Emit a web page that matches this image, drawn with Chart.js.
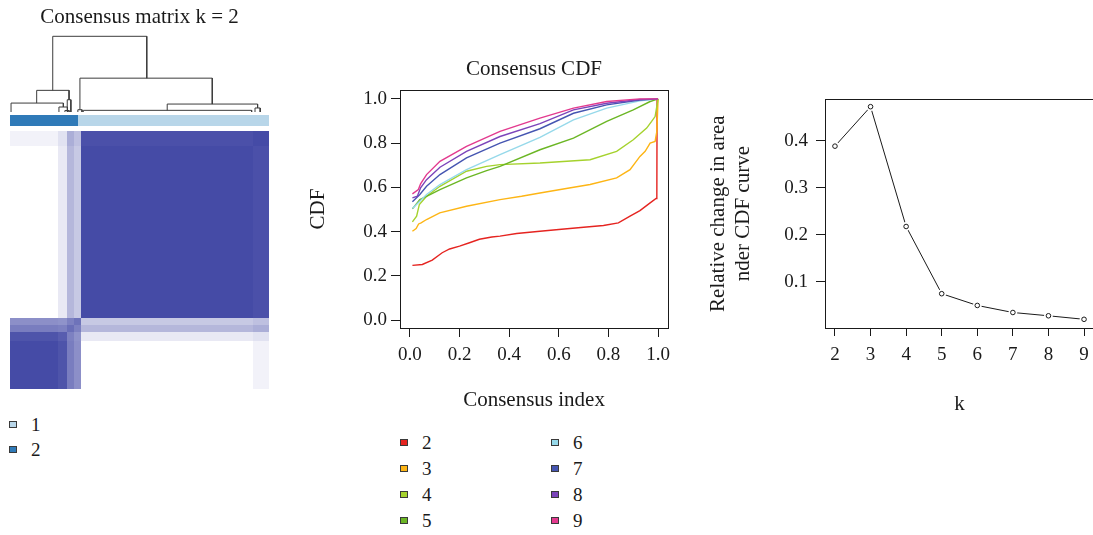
<!DOCTYPE html>
<html>
<head>
<meta charset="utf-8">
<title>Consensus clustering</title>
<script src="https://cdn.jsdelivr.net/npm/chart.js@4.4.1/dist/chart.umd.min.js"></script>
<style>
  html, body { margin: 0; padding: 0; background: #fff; width: 1093px; height: 535px; overflow: hidden; }
  .panel { position: absolute; }
  .lg-text { position: absolute; font-family: "Liberation Serif", "Times New Roman", serif; font-size: 19px; line-height: 19px; color: #1a1a1a; white-space: nowrap; }
  .lg-swatch { position: absolute; width: 8px; height: 7px; box-sizing: border-box; border: 1px solid #3a3a3a; }
</style>
</head>
<body>
<div class="panel" style="left:10px; top:0px; width:259px; height:389px;"><canvas id="matrix"></canvas></div>
<div class="panel" style="left:300px; top:50px; width:390px; height:370px;"><canvas id="cdf"></canvas></div>
<div class="panel" style="left:700px; top:80px; width:400px; height:345px;"><canvas id="delta"></canvas></div>
<div id="legends"></div>
<script>
// ---------- consensus matrix, k = 2 ----------
// sample bands along the clustered sample order (fraction of samples)
const sampleBands = [0, 0.185, 0.22, 0.247, 0.274, 0.94, 1.0];
// mean consensus between every pair of bands (symmetric)
const bandConsensus = [
  [1.00, 0.95, 0.72, 0.62, 0.00, 0.07],
  [0.95, 0.90, 0.70, 0.60, 0.12, 0.16],
  [0.72, 0.70, 0.80, 0.70, 0.40, 0.45],
  [0.62, 0.60, 0.70, 0.78, 0.30, 0.35],
  [0.00, 0.12, 0.40, 0.30, 1.00, 0.97],
  [0.07, 0.16, 0.45, 0.35, 0.97, 1.00]
];
// cluster membership along the same order
const clusterBreaks = [0, 0.263, 1];
const clusterOfSpan = ['2', '1'];
const clusterNames = ['1', '2'];
// dendrogram merges: [left x, left height, right x, right height, merge height]
const dendroMerges = [
  [0.165, 0.286, 0.528, 0.447, 1.000],
  [0.270, 0.030, 0.781, 0.105, 0.447],
  [0.607, 0.022, 0.956, 0.053, 0.105],
  [0.283, 0.000, 0.933, 0.000, 0.022],
  [0.946, 0.000, 0.966, 0.000, 0.053],
  [0.262, 0.000, 0.278, 0.000, 0.030],
  [0.103, 0.118, 0.228, 0.162, 0.286],
  [0.004, 0.000, 0.206, 0.066, 0.118],
  [0.189, 0.000, 0.222, 0.000, 0.066],
  [0.221, 0.000, 0.235, 0.000, 0.162],
  [0.212, 0.000, 0.228, 0.000, 0.020]
];

// ---------- consensus CDF per k ----------
const cdfK = ['2', '3', '4', '5', '6', '7', '8', '9'];
const cdfK2 = [[0.01,0.248],[0.05,0.252],[0.09,0.272],[0.13,0.305],[0.16,0.322],[0.20,0.335],[0.24,0.350],[0.28,0.366],[0.33,0.376],[0.363,0.380],[0.43,0.392],[0.524,0.402],[0.60,0.410],[0.70,0.420],[0.78,0.428],[0.84,0.440],[0.887,0.470],[0.927,0.495],[0.968,0.530],[0.992,0.550],[0.995,0.555],[0.996,1.0]];
const cdfK3 = [[0.01,0.402],[0.025,0.414],[0.035,0.435],[0.045,0.440],[0.067,0.455],[0.12,0.485],[0.228,0.515],[0.363,0.545],[0.45,0.560],[0.524,0.575],[0.63,0.595],[0.726,0.613],[0.833,0.643],[0.887,0.680],[0.927,0.740],[0.948,0.763],[0.968,0.800],[0.988,0.808],[0.995,0.853],[1.0,1.0]];
const cdfK4 = [[0.01,0.444],[0.027,0.470],[0.038,0.523],[0.067,0.560],[0.121,0.605],[0.228,0.673],[0.309,0.695],[0.363,0.703],[0.524,0.710],[0.726,0.725],[0.833,0.763],[0.90,0.815],[0.954,0.868],[0.974,0.898],[0.988,0.920],[1.0,1.0]];
const cdfK5 = [[0.01,0.503],[0.04,0.545],[0.067,0.560],[0.121,0.590],[0.228,0.643],[0.309,0.676],[0.363,0.695],[0.524,0.770],[0.659,0.823],[0.793,0.898],[0.90,0.950],[0.968,0.988],[1.0,1.0]];
const cdfK6 = [[0.01,0.505],[0.04,0.538],[0.067,0.568],[0.121,0.613],[0.228,0.680],[0.363,0.748],[0.524,0.826],[0.659,0.905],[0.793,0.958],[0.927,0.991],[1.0,1.0]];
const cdfK7 = [[0.01,0.535],[0.04,0.568],[0.067,0.605],[0.121,0.658],[0.228,0.733],[0.363,0.800],[0.524,0.865],[0.659,0.935],[0.793,0.973],[0.927,0.995],[1.0,1.0]];
const cdfK8 = [[0.01,0.553],[0.03,0.560],[0.043,0.598],[0.067,0.635],[0.121,0.691],[0.228,0.763],[0.363,0.830],[0.524,0.888],[0.659,0.950],[0.793,0.980],[0.927,0.997],[1.0,1.0]];
const cdfK9 = [[0.01,0.571],[0.034,0.590],[0.043,0.616],[0.067,0.658],[0.121,0.718],[0.228,0.785],[0.363,0.853],[0.524,0.913],[0.659,0.958],[0.793,0.988],[0.927,1.0],[1.0,1.0]];
const cdfTicks = [0, 0.2, 0.4, 0.6, 0.8, 1.0];
const cdfTickLabels = ['0.0', '0.2', '0.4', '0.6', '0.8', '1.0'];

// ---------- relative change in area under the CDF ----------
const deltaK = [2, 3, 4, 5, 6, 7, 8, 9];
const deltaArea = [0.389, 0.473, 0.218, 0.075, 0.050, 0.035, 0.028, 0.0205];
const deltaYTicks = [0.1, 0.2, 0.3, 0.4];

// ---------- styling ----------
const serif = '"Liberation Serif", "Times New Roman", serif';
const ink = '#1a1a1a';
const heatDark = [69, 75, 166];
const clusterColors = { '1': '#b8d6e9', '2': '#2f7ab8' };
const cdfColors = ['#e52420', '#fdb515', '#a5d22d', '#6bb624', '#96d9ea', '#4555b1', '#7b44ba', '#e33a8f'];
const font = size => ({ family: serif, size: size, weight: 'normal', lineHeight: 1.2 });

Chart.defaults.font.family = serif;
Chart.defaults.color = ink;
Chart.defaults.animation = false;

function heatColor(v) {
  const c = heatDark.map(d => Math.round(255 + (d - 255) * v));
  return 'rgb(' + c.join(',') + ')';
}

// draws the consensus cells and the cluster colour bar from the x / yh scales
const matrixCells = {
  id: 'matrixCells',
  beforeDatasetsDraw(chart) {
    const { ctx } = chart;
    const x = chart.scales.x, yh = chart.scales.yh;
    const px = v => Math.round(x.getPixelForValue(v));
    const py = v => Math.round(yh.getPixelForValue(v));
    ctx.save();
    for (let i = 0; i < sampleBands.length - 1; i++) {
      for (let j = 0; j < sampleBands.length - 1; j++) {
        const x0 = px(sampleBands[i]), x1 = px(sampleBands[i + 1]);
        const yb = py(sampleBands[j]), yt = py(sampleBands[j + 1]);
        ctx.fillStyle = heatColor(bandConsensus[j][i]);
        ctx.fillRect(x0, yt, x1 - x0, yb - yt);
      }
    }
    const barLow = 1.0194, barHigh = 1.062;
    for (let k = 0; k < clusterOfSpan.length; k++) {
      const x0 = px(clusterBreaks[k]), x1 = px(clusterBreaks[k + 1]);
      const yb = py(barLow), yt = py(barHigh);
      ctx.fillStyle = clusterColors[clusterOfSpan[k]];
      ctx.fillRect(x0, yt, x1 - x0, yb - yt);
    }
    ctx.restore();
  }
};

// full frame round the plotting region
const frameBox = {
  id: 'frameBox',
  afterDatasetsDraw(chart) {
    const { ctx, chartArea: a } = chart;
    ctx.save();
    ctx.strokeStyle = ink;
    ctx.lineWidth = 1;
    const l = Math.round(a.left) + 0.5, t = Math.round(a.top) + 0.5;
    ctx.strokeRect(l, t, Math.round(a.right) - Math.round(a.left), Math.round(a.bottom) - Math.round(a.top));
    ctx.restore();
  }
};

new Chart(document.getElementById('matrix'), {
  type: 'scatter',
  data: {
    datasets: dendroMerges.map(m => ({
      data: [{ x: m[0], y: m[1] }, { x: m[0], y: m[4] }, { x: m[2], y: m[4] }, { x: m[2], y: m[3] }],
      showLine: true, borderColor: '#3c3c3c', borderWidth: 1, pointRadius: 0, tension: 0,
      yAxisID: 'yd', clip: false
    }))
  },
  options: {
    responsive: true, maintainAspectRatio: false, animation: false, events: [],
    layout: { padding: 0 },
    plugins: {
      legend: { display: false }, tooltip: { enabled: false },
      title: { display: true, text: 'Consensus matrix k = 2', font: font(21), color: ink, padding: { top: 4.4, bottom: 0.4 } }
    },
    scales: {
      x: { type: 'linear', min: 0, max: 1, display: false },
      y: { type: 'linear', display: false },
      yh: { type: 'linear', position: 'left', min: 0, max: 1.3915, display: false },
      yd: { type: 'linear', position: 'left', min: -3.659, max: 1.0832, display: false }
    }
  },
  plugins: [matrixCells]
});

// k = 2 is drawn first and k = 9 last (higher order is drawn earlier)
const cdfSeries = [cdfK2, cdfK3, cdfK4, cdfK5, cdfK6, cdfK7, cdfK8, cdfK9];
new Chart(document.getElementById('cdf'), {
  type: 'scatter',
  data: {
    datasets: cdfSeries.map((s, i) => ({
      label: cdfK[i],
      order: cdfSeries.length - i,
      data: s.map(p => ({ x: p[0], y: p[1] })),
      showLine: true, borderColor: cdfColors[i], borderWidth: 1.4, pointRadius: 0, tension: 0
    }))
  },
  options: {
    responsive: true, maintainAspectRatio: false, animation: false, events: [],
    layout: { padding: { left: 0, right: 22, top: 0, bottom: 0 } },
    plugins: {
      legend: { display: false }, tooltip: { enabled: false },
      title: { display: true, fullSize: false, text: 'Consensus CDF', font: font(21), color: ink, padding: { top: 7, bottom: 7.8 } }
    },
    scales: {
      x: {
        type: 'linear', min: -0.04, max: 1.04,
        afterFit: s => { s.height = 92; },
        afterBuildTicks: s => { s.ticks = cdfTicks.map(v => ({ value: v })); },
        ticks: { font: font(19), color: ink, padding: 6.6, maxRotation: 0, autoSkip: false, callback: (v, i) => cdfTickLabels[i] },
        grid: { drawOnChartArea: false, drawTicks: true, tickLength: 9, color: ink },
        border: { display: false },
        title: { display: true, text: 'Consensus index', font: font(21), color: ink, padding: { top: 0, bottom: 7.4 } }
      },
      y: {
        type: 'linear', min: -0.035, max: 1.04,
        afterFit: s => { s.width = 100; },
        afterBuildTicks: s => { s.ticks = cdfTicks.map(v => ({ value: v })); },
        ticks: { font: font(19), color: ink, padding: 4, autoSkip: false, callback: (v, i) => cdfTickLabels[i] },
        grid: { drawOnChartArea: false, drawTicks: true, tickLength: 9, color: ink },
        border: { display: false },
        title: { display: true, text: 'CDF', font: font(21), color: ink, padding: { top: 5.9, bottom: 0 } }
      }
    }
  },
  plugins: [frameBox]
});

// each dataset gets its own copy of the points; line first, then a white gap, then the open circles
const deltaPoints = () => deltaK.map((k, i) => ({ x: k, y: deltaArea[i] }));
new Chart(document.getElementById('delta'), {
  type: 'scatter',
  data: {
    datasets: [
      { order: 3, data: deltaPoints(), showLine: true, borderColor: ink, borderWidth: 1, pointRadius: 0, tension: 0 },
      { order: 2, data: deltaPoints(), showLine: false, pointStyle: 'circle', pointRadius: 4.4, pointBackgroundColor: '#ffffff', pointBorderWidth: 0, pointBorderColor: '#ffffff' },
      { order: 1, data: deltaPoints(), showLine: false, pointStyle: 'circle', pointRadius: 2.3, pointBackgroundColor: '#ffffff', pointBorderWidth: 1, pointBorderColor: ink }
    ]
  },
  options: {
    responsive: true, maintainAspectRatio: false, animation: false, events: [],
    layout: { padding: { left: 0, right: 6, top: 10, bottom: 0 } },
    plugins: { legend: { display: false }, tooltip: { enabled: false } },
    scales: {
      x: {
        type: 'linear', min: 1.72, max: 9.28,
        afterFit: s => { s.height = 97; },
        afterBuildTicks: s => { s.ticks = deltaK.map(v => ({ value: v })); },
        ticks: { font: font(19), color: ink, padding: 8, maxRotation: 0, autoSkip: false, callback: v => String(v) },
        grid: { drawOnChartArea: false, drawTicks: true, tickLength: 8, color: ink },
        border: { display: false },
        title: { display: true, text: 'k', font: font(21), color: ink, padding: { top: 0, bottom: 8.4 } }
      },
      y: {
        type: 'linear', min: 0.002, max: 0.4885,
        afterFit: s => { s.width = 125; },
        afterBuildTicks: s => { s.ticks = deltaYTicks.map(v => ({ value: v })); },
        ticks: { font: font(19), color: ink, padding: 8, autoSkip: false, callback: v => v.toFixed(1) },
        grid: { drawOnChartArea: false, drawTicks: true, tickLength: 9, color: ink },
        border: { display: false },
        title: { display: true, text: ['Relative change in area', 'nder CDF curve'], font: font(21), color: ink, padding: { top: 5.4, bottom: 0 } }
      }
    }
  },
  plugins: [frameBox]
});

// ---------- legends ----------
const legendBox = document.getElementById('legends');
function addLegendItem(sqLeft, textLeft, centerY, color, text) {
  const sw = document.createElement('div');
  sw.className = 'lg-swatch';
  sw.style.left = sqLeft + 'px';
  sw.style.top = Math.round(centerY - 3.5) + 'px';
  sw.style.background = color;
  legendBox.appendChild(sw);
  const tx = document.createElement('div');
  tx.className = 'lg-text';
  tx.style.left = textLeft + 'px';
  tx.style.top = (centerY - 9.5) + 'px';
  tx.textContent = text;
  legendBox.appendChild(tx);
}
clusterNames.forEach((name, i) => addLegendItem(9, 31, 424.5 + i * 25, clusterColors[name], name));
cdfK.forEach((k, i) => {
  const col = Math.floor(i / 4), row = i % 4;
  addLegendItem(col ? 551 : 400, col ? 573 : 422, 442 + row * 26.2, cdfColors[i], k);
});
</script>
</body>
</html>
